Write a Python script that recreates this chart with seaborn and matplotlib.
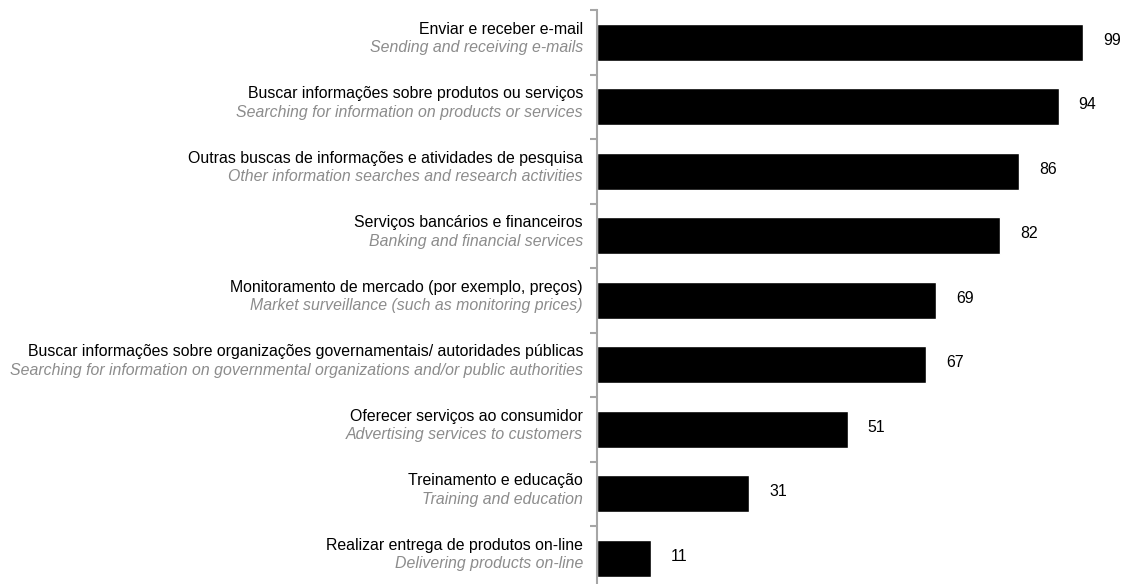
import matplotlib
matplotlib.use("Agg")
import matplotlib.pyplot as plt
import matplotlib.transforms as mtransforms
import seaborn as sns
import pandas as pd
import numpy as np

# --- Data ---
labels_pt = [
    "Enviar e receber e-mail",
    "Buscar informações sobre produtos ou serviços",
    "Outras buscas de informações e atividades de pesquisa",
    "Serviços bancários e financeiros",
    "Monitoramento de mercado (por exemplo, preços)",
    "Buscar informações sobre organizações governamentais/ autoridades públicas",
    "Oferecer serviços ao consumidor",
    "Treinamento e educação",
    "Realizar entrega de produtos on-line",
]
labels_en = [
    "Sending and receiving e-mails",
    "Searching for information on products or services",
    "Other information searches and research activities",
    "Banking and financial services",
    "Market surveillance (such as monitoring prices)",
    "Searching for information on governmental organizations and/or public authorities",
    "Advertising services to customers",
    "Training and education",
    "Delivering products on-line",
]
values = [99, 94, 86, 82, 69, 67, 51, 31, 11]

df = pd.DataFrame({"cat": labels_pt, "value": values})

sns.set_style("white")
plt.rcParams["font.family"] = ["Liberation Sans", "DejaVu Sans"]
FS = 11.4

fig = plt.figure(figsize=(11.26, 5.84), dpi=100)
ax = fig.add_axes([597 / 1126, -6.5 / 584, 1 - 597 / 1126, 1 - 10 / 584 + 6.5 / 584])

sns.barplot(data=df, y="cat", x="value", orient="h", color="black",
            width=0.58, saturation=1, ax=ax)

ax.set_xlim(0, 107.7)
ax.set_ylim(len(values) - 0.5, -0.5)

# value labels
for i, v in enumerate(values):
    ax.annotate(str(v), xy=(v, i), xytext=(14.4, -1.8), textcoords="offset points",
                ha="left", va="baseline", fontsize=FS, color="black")

# category labels (two lines)
trans = mtransforms.blended_transform_factory(fig.transFigure, ax.transData)
for i, (pt, en) in enumerate(zip(labels_pt, labels_en)):
    ax.annotate(pt, xy=(583 / 1126, i), xycoords=trans, xytext=(0, 6.0),
                textcoords="offset points", ha="right", va="baseline",
                fontsize=FS, color="black")
    ax.annotate(en, xy=(583 / 1126, i), xycoords=trans, xytext=(0, -7.2),
                textcoords="offset points", ha="right", va="baseline",
                fontsize=FS, color="#8c8c8c", style="italic")

ax.set_yticks(np.arange(-0.5, len(values), 1.0))
ax.set_yticklabels([])
ax.set_xticks([])
ax.set_xlabel("")
ax.set_ylabel("")
ax.tick_params(axis="y", length=5, width=1.5, color="#a6a6a6", direction="out", left=True)
for s in ["top", "right", "bottom"]:
    ax.spines[s].set_visible(False)
ax.spines["left"].set_color("#a6a6a6")
ax.spines["left"].set_linewidth(1.5)

fig.savefig("out.png", dpi=100)
